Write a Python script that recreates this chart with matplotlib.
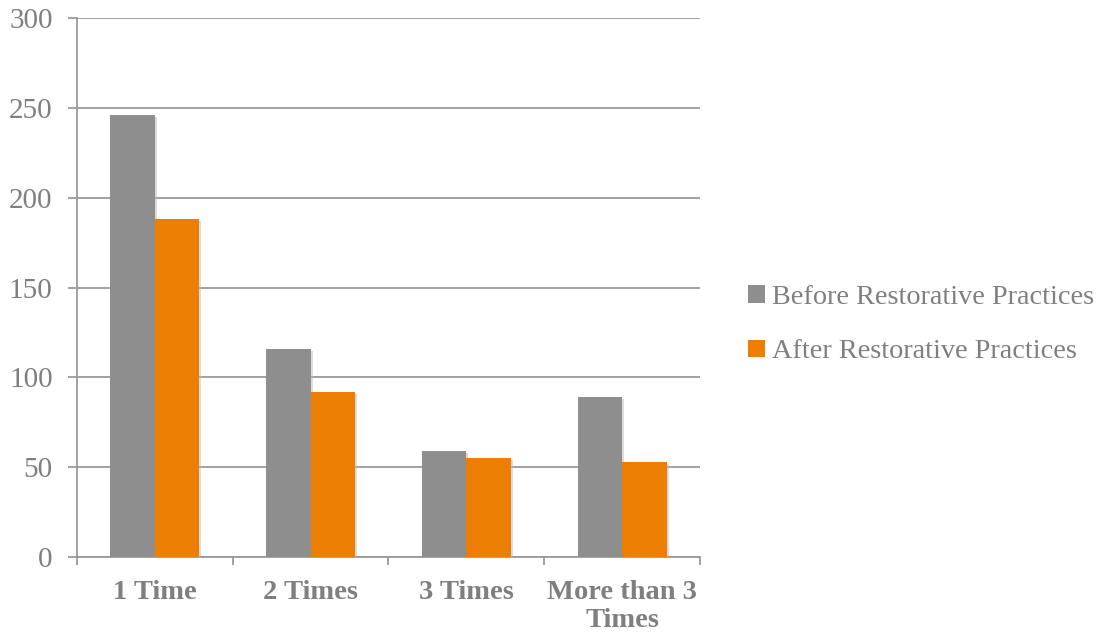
import matplotlib
matplotlib.use("Agg")
import matplotlib.pyplot as plt
import matplotlib.patheffects as pe
import numpy as np
from matplotlib.ticker import FixedLocator, NullFormatter

categories = ["1 Time", "2 Times", "3 Times", "More than 3\nTimes"]
before = [246, 116, 59, 89]
after = [188, 92, 55, 53]
series_names = ["Before Restorative Practices", "After Restorative Practices"]
y_ticks = [0, 50, 100, 150, 200, 250, 300]

GRAY = "#8E8E8E"
ORANGE = "#EC7F03"
TEXT = "#7F7F7F"
LINE = "#9A9A9A"

plt.rcParams["font.family"] = ["Liberation Serif", "DejaVu Serif"]

fig = plt.figure(figsize=(10.99, 6.34), dpi=100)
ax = fig.add_axes([0.070, 0.122, 0.567, 0.849])

x = np.arange(len(categories))
w = 0.286
shadow = [pe.SimplePatchShadow(offset=(1.5, -1.5), shadow_rgbFace="#bbbbbb", alpha=0.5), pe.Normal()]
b1 = ax.bar(x - w / 2, before, width=w, color=GRAY, label=series_names[0], zorder=3)
b2 = ax.bar(x + w / 2, after, width=w, color=ORANGE, label=series_names[1], zorder=3)
for bar in list(b1) + list(b2):
    bar.set_path_effects(shadow)

ax.set_xlim(-0.5, len(categories) - 0.5)
ax.set_ylim(0, 300)
ax.set_yticks(y_ticks)
ax.yaxis.grid(True, color=LINE, linewidth=1.3, zorder=0)
ax.set_axisbelow(True)

for s in ["top", "right"]:
    ax.spines[s].set_visible(False)
for s in ["left", "bottom"]:
    ax.spines[s].set_color(LINE)
    ax.spines[s].set_linewidth(1.3)

ax.set_xticks(x)
ax.set_xticklabels(categories, fontweight="bold", color=TEXT, fontsize=20.5, linespacing=1.2)
ax.tick_params(axis="x", which="major", length=0, pad=16.5)
ax.xaxis.set_minor_locator(FixedLocator(np.arange(-0.5, len(categories), 1.0)))
ax.xaxis.set_minor_formatter(NullFormatter())
ax.tick_params(axis="x", which="minor", length=5.5, width=1.3, color=LINE, direction="out")
ax.tick_params(axis="y", length=6.5, width=1.3, color=LINE, labelcolor=TEXT, labelsize=21, pad=11)

leg = fig.legend(handles=[b1, b2], labels=series_names, loc="center left",
                 bbox_to_anchor=(0.681, 0.488), frameon=False, fontsize=20.3,
                 labelcolor=TEXT, handlelength=0.6, handleheight=0.6,
                 handletextpad=0.22, labelspacing=1.05, borderpad=0, borderaxespad=0)
for h in leg.legend_handles:
    h.set_path_effects([])

fig.savefig("out.png", dpi=100)
